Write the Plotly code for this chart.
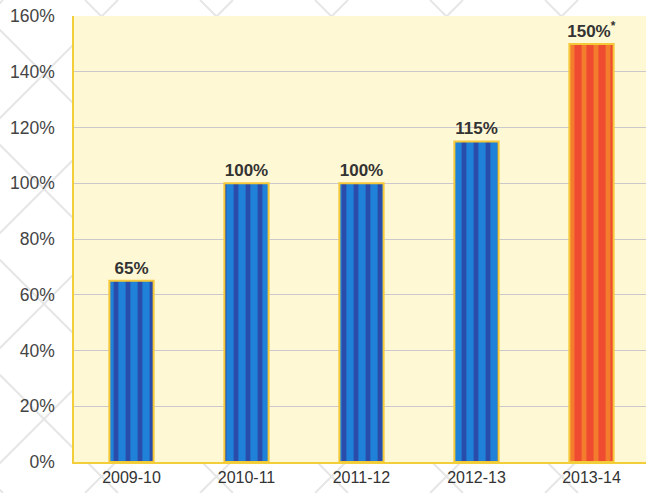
import plotly.graph_objects as go

years = ["2009-10", "2010-11", "2011-12", "2012-13", "2013-14"]
values = [65, 100, 100, 115, 150]
labels = ["65%", "100%", "100%", "115%", "150%<sup>*</sup>"]
groups = ["blue", "blue", "blue", "blue", "orange"]
group_colors = {"blue": ("#1f82d8", "#2b43a3"), "orange": ("#ee4b30", "#f6862c")}

W, H = 646, 493
L, R, T, B = 74, 0, 16, 31
pw, ph = W - L - R, H - T - B

fig = go.Figure()
for g, (base, stripe) in group_colors.items():
    idx = [i for i, gg in enumerate(groups) if gg == g]
    fig.add_trace(go.Bar(
        x=[years[i] for i in idx], y=[values[i] for i in idx],
        text=[labels[i] for i in idx], textposition="outside", cliponaxis=False,
        constraintext="none",
        textfont=dict(family="Liberation Sans Narrow, Arial Narrow, Liberation Sans", size=17, color="#333333", weight="bold"),
        marker=dict(
            color=base,
            line=dict(color="#f5c83a", width=2),
            pattern=dict(shape="|", fgcolor=stripe, size=12, solidity=0.4, fgopacity=0.85, fillmode="overlay"),
        ),
        width=0.385,
    ))

# decorative faint diagonal background lines (pixel coords -> paper)
def px2paper(px, py):
    return (px - L) / pw, (H - B - py) / ph

shapes = []
for k in range(-6, 10):
    x0 = k * 115 - 30
    for sgn in (1, -1):
        if sgn == 1:
            a = px2paper(x0, 0); b = px2paper(x0 + H, H)
        else:
            a = px2paper(x0 + H, 0); b = px2paper(x0, H)
        shapes.append(dict(type="line", xref="paper", yref="paper",
                           x0=a[0], y0=a[1], x1=b[0], y1=b[1],
                           line=dict(color="#e6e6e6", width=2), layer="below"))
# yellow plot panel covering the decorative lines
shapes.append(dict(type="rect", xref="paper", yref="paper", x0=0, y0=0, x1=1, y1=1,
                   fillcolor="#fff8d4", line=dict(width=0), layer="below"))

fig.update_layout(
    width=W, height=H,
    margin=dict(l=L, r=R, t=T, b=B, autoexpand=False),
    paper_bgcolor="white",
    plot_bgcolor="rgba(0,0,0,0)",
    showlegend=False,
    barmode="overlay",
    shapes=shapes,
    font=dict(family="Liberation Sans, Arial", color="#444444"),
    xaxis=dict(
        type="category", categoryorder="array", categoryarray=years,
        range=[-0.5, 4.474],
        showgrid=False, showline=True, linecolor="#f2cf3a", linewidth=1.5,
        ticks="", tickfont=dict(family="Liberation Sans Narrow, Arial Narrow, Liberation Sans", size=16, color="#333333"),
        fixedrange=True,
    ),
    yaxis=dict(
        range=[0, 160], tickvals=[0, 20, 40, 60, 80, 100, 120, 140, 160],
        ticktext=["0%", "20%", "40%", "60%", "80%", "100%", "120%", "140%", "160%"],
        showgrid=True, gridcolor="#cbc8cc", gridwidth=1,
        showline=True, linecolor="#f2cf3a", linewidth=1.5, mirror=True,
        zeroline=False, ticks="", ticklabelstandoff=14,
        tickfont=dict(size=17.5, color="#444444"),
        fixedrange=True,
    ),
)

fig.write_html("out.html", config={"displayModeBar": False},
               post_script="document.body.style.margin='0';document.body.style.padding='0';")
